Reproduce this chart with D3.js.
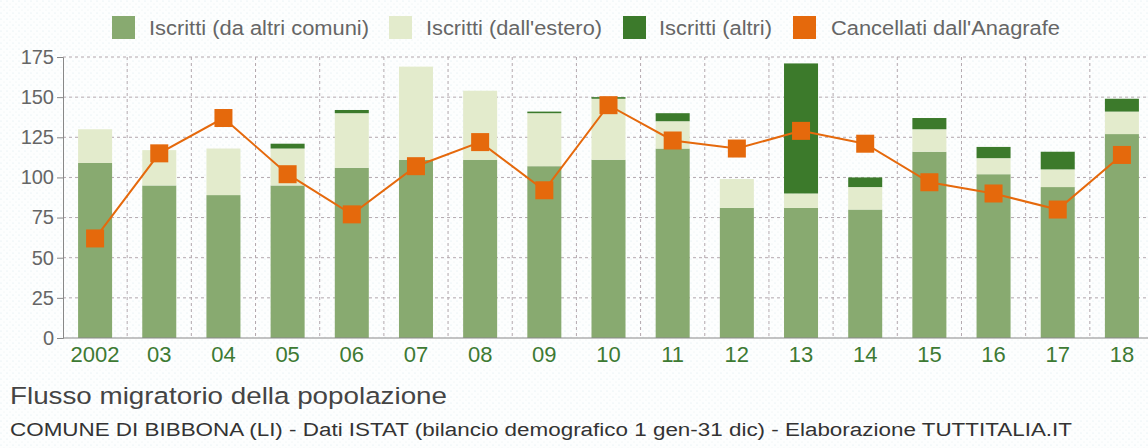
<!DOCTYPE html>
<html><head><meta charset="utf-8">
<script src="https://cdn.jsdelivr.net/npm/d3@7"></script>
<style>
html,body{margin:0;padding:0;background:#fff;}
svg{display:block;font-family:"Liberation Sans",Arial,Helvetica,sans-serif;}
</style></head>
<body>
<svg id="chart" width="1148" height="448"></svg>
<script>
const years = ["2002","03","04","05","06","07","08","09","10","11","12","13","14","15","16","17","18"];
const daAltriComuni = [109,95,89,95,106,111,111,107,111,118,81,81,80,116,102,94,127];
const dallEstero    = [21,22,29,23,34,58,43,33,38,17,18,9,14,14,10,11,14];
const altri         = [0,0,0,3,2,0,0,1,1,5,0,81,6,7,7,11,8];
const cancellati    = [62,115,137,102,77,107,122,92,145,123,118,129,121,97,90,80,114];
const yTicks = [0,25,50,75,100,125,150,175];
const seriesNames = ["Iscritti (da altri comuni)","Iscritti (dall'estero)","Iscritti (altri)","Cancellati dall'Anagrafe"];
const colors = ["#88aa70","#e3ebcc","#3c7a2b","#e5690c"];

const svg = d3.select("#chart");
const W = 1148, H = 448;

// background dotted texture
const defs = svg.append("defs");
const pat = defs.append("pattern").attr("id","dots").attr("width",6).attr("height",6).attr("patternUnits","userSpaceOnUse");
pat.append("rect").attr("width",6).attr("height",6).attr("fill","#fdfefe");
pat.append("circle").attr("cx",1).attr("cy",1).attr("r",0.6).attr("fill","#dbe8ee");
pat.append("circle").attr("cx",4).attr("cy",4).attr("r",0.5).attr("fill","#e6ecef");
svg.append("rect").attr("width",W).attr("height",H).attr("fill","url(#dots)");

const x = d3.scaleBand().domain(years).range([63,1154]).paddingInner(0.47).paddingOuter(0.235);
const y = d3.scaleLinear().domain([0,175]).range([338,57]);
const step = x.step();

// grid
const g = svg.append("g");
g.selectAll("line.h").data(yTicks.filter(d=>d>0)).join("line").attr("class","h")
  .attr("x1",63).attr("x2",W).attr("y1",d=>y(d)).attr("y2",d=>y(d))
  .attr("stroke","#b3a8ae").attr("stroke-width",1).attr("stroke-dasharray","3,3");
const bounds = years.map(d=>x(d)+x.bandwidth()+(step-x.bandwidth())/2);
g.selectAll("line.v").data(bounds).join("line").attr("class","v")
  .attr("x1",d=>d).attr("x2",d=>d).attr("y1",y(175)).attr("y2",y(0))
  .attr("stroke","#b3a8ae").attr("stroke-width",1).attr("stroke-dasharray","3,3");

// stacked bars
const stackData = years.map((yr,i)=>({year:yr, a:daAltriComuni[i], b:dallEstero[i], c:altri[i]}));
const stack = d3.stack().keys(["a","b","c"])(stackData);
svg.append("g").selectAll("g").data(stack).join("g")
  .attr("fill",(d,i)=>colors[i])
  .selectAll("rect").data(d=>d).join("rect")
  .attr("x",d=>x(d.data.year)).attr("width",x.bandwidth())
  .attr("y",d=>y(d[1])).attr("height",d=>Math.max(0,y(d[0])-y(d[1])));

// axes
const yAxis = d3.axisLeft(y).tickValues(yTicks).tickSize(6).tickPadding(3);
const ya = svg.append("g").attr("transform","translate(63,0)").call(yAxis);
ya.select(".domain").attr("stroke","#888");
ya.selectAll(".tick line").attr("stroke","#888");
ya.selectAll("text").attr("fill","#666").attr("font-size",20).attr("font-family","Liberation Sans, Arial, sans-serif");

const xAxis = d3.axisBottom(x).tickSize(0).tickPadding(8);
const xa = svg.append("g").attr("transform",`translate(0,${y(0)})`).call(xAxis);
xa.select(".domain").attr("stroke","#888").attr("d",`M63,0H${W}`);
xa.selectAll("text").attr("fill","#3d7a33").attr("font-size",22).attr("font-family","Liberation Sans, Arial, sans-serif");

// line
const cx = i => x(years[i]) + x.bandwidth()/2;
const line = d3.line().x((d,i)=>cx(i)).y(d=>y(d));
svg.append("path").datum(cancellati).attr("d",line).attr("fill","none").attr("stroke","#e5690c").attr("stroke-width",2);
svg.append("g").selectAll("rect").data(cancellati).join("rect")
  .attr("x",(d,i)=>cx(i)-9).attr("y",d=>y(d)-9).attr("width",18).attr("height",18)
  .attr("fill","#e5690c");

// legend
const legX = [112,389,623,793];
const legTX = [149,426,659,831];
const legW = [220,176,113,229];
const leg = svg.append("g");
seriesNames.forEach((n,i)=>{
  leg.append("rect").attr("x",legX[i]).attr("y",16).attr("width",23).attr("height",23).attr("fill",colors[i]);
  leg.append("text").attr("x",legTX[i]).attr("y",35).attr("font-size",20).attr("fill","#666")
    .attr("textLength",legW[i]).attr("lengthAdjust","spacingAndGlyphs").text(n);
});

// titles
svg.append("text").attr("x",10).attr("y",404).attr("font-size",24.5).attr("fill","#444")
  .attr("textLength",437).attr("lengthAdjust","spacingAndGlyphs").text("Flusso migratorio della popolazione");
svg.append("text").attr("x",10).attr("y",436).attr("font-size",18).attr("fill","#333")
  .attr("textLength",1062).attr("lengthAdjust","spacingAndGlyphs")
  .text("COMUNE DI BIBBONA (LI) - Dati ISTAT (bilancio demografico 1 gen-31 dic) - Elaborazione TUTTITALIA.IT");
</script>
</body></html>
